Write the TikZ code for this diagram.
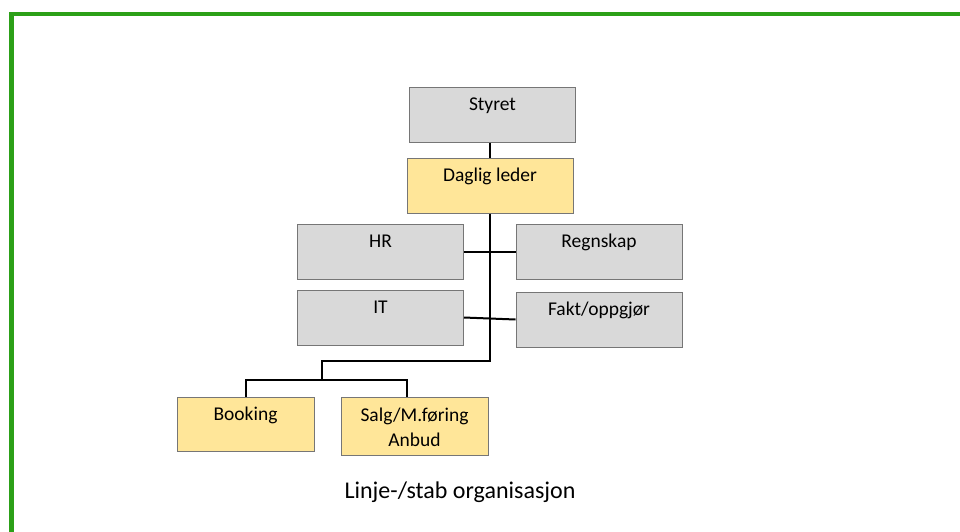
\documentclass[tikz,border=0pt]{standalone}
\usepackage{fontspec}
\setmainfont{Carlito}
\usepackage{tikz}
\usetikzlibrary{positioning}

\definecolor{ramme}{RGB}{44,160,24}
\definecolor{graafyll}{RGB}{217,217,217}
\definecolor{gulfyll}{RGB}{255,230,153}
\definecolor{kant}{RGB}{118,118,118}

\tikzset{
  boks/.style={draw=kant,line width=1pt,minimum width=166pt,inner ysep=0pt,
    text height=23pt,text depth=32pt,align=center,font=\fontsize{19.5}{24.5}\selectfont},
  graa/.style={boks,fill=graafyll},
  gul/.style={boks,fill=gulfyll},
  linje/.style={draw=black,line width=2pt}
}

\begin{document}
\begin{tikzpicture}[x=1pt,y=-1pt,on grid]
  \useasboundingbox (0,0) rectangle (960,531);
  \draw[ramme,line width=4.5pt] (11.5,14) rectangle (990,560);
  \node[graa] (styret) at (492.5,114.5) {Styret};
  \node[gul] (daglig) [below=71pt of styret,xshift=-2.5pt] {Daglig leder};
  \node[graa] (hr) [below left=66pt and 109.5pt of daglig] {HR};
  \node[graa] (regnskap) [below right=66pt and 109pt of daglig] {Regnskap};
  \node[graa] (it) [below=66pt of hr] {IT};
  \node[graa] (fakt) [below=68pt of regnskap] {Fakt/oppgjør};
  \node[gul,minimum width=137pt,text depth=31pt] (booking) at (245.5,424) {Booking};
  \node[gul,minimum width=147pt,text height=49pt,text depth=9pt] (salg) [right=169pt of booking,yshift=-2pt]
    {Salg/M.føring\\Anbud};
  \node[font=\fontsize{24}{28}\selectfont] (tittel) at (460,492) {Linje-/stab organisasjon};
  \path (daglig.south) ++(0,147) coordinate (bunn);
  \coordinate (fordeler) at (322,380);
  \draw[linje] (styret.south -| daglig.north) -- (daglig.north);
  \draw[linje] (daglig.south) -- (bunn) -| (fordeler);
  \draw[linje] (booking.north) |- (fordeler) -| (salg.north -| 407,0);
  \draw[linje] (hr.east) -- (regnskap.west);
  \draw[linje] (it.east) -- (fakt.west);
\end{tikzpicture}
\end{document}
